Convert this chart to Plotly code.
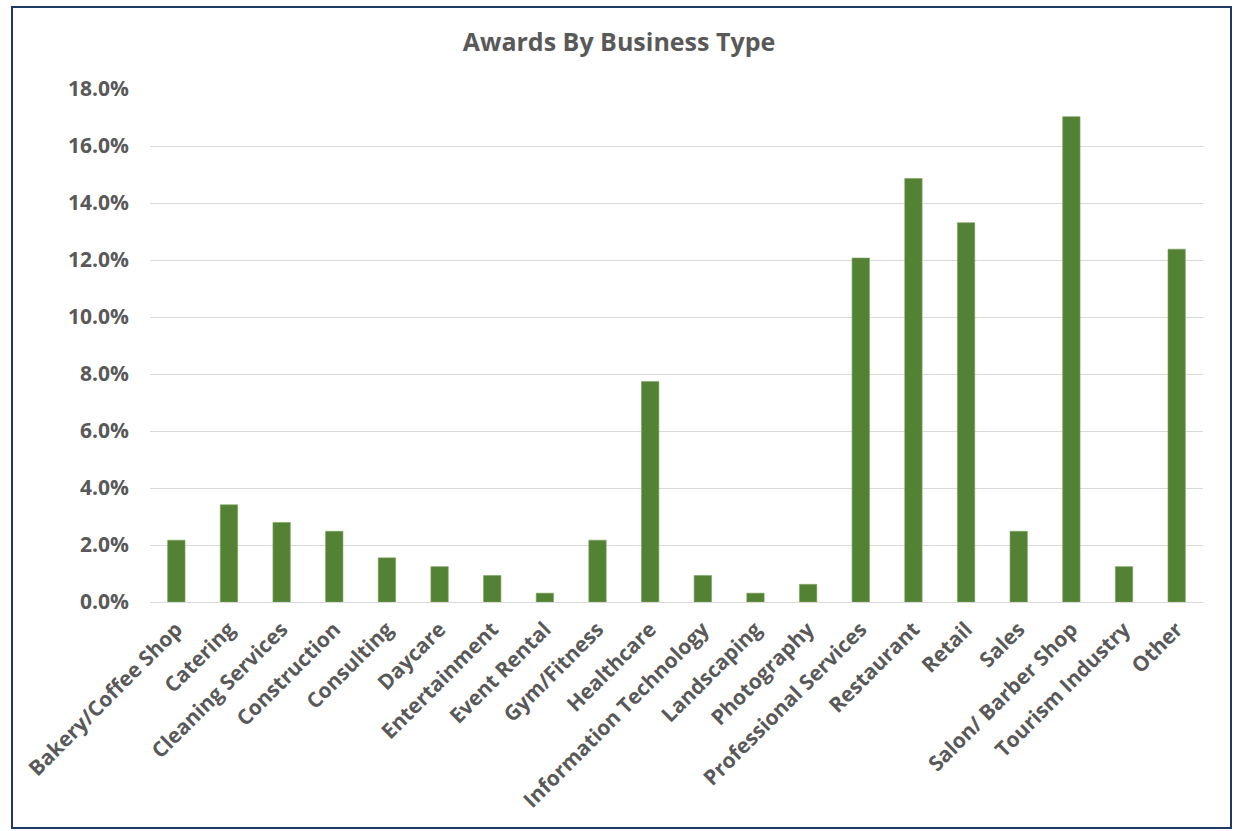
import plotly.graph_objects as go

categories = ["Bakery/Coffee Shop", "Catering", "Cleaning Services", "Construction",
              "Consulting", "Daycare", "Entertainment", "Event Rental", "Gym/Fitness",
              "Healthcare", "Information Technology", "Landscaping", "Photography",
              "Professional Services", "Restaurant", "Retail", "Sales",
              "Salon/ Barber Shop", "Tourism Industry", "Other"]
share_pct = [2.17, 3.41, 2.79, 2.48, 1.55, 1.24, 0.93, 0.31, 2.17, 7.74,
             0.93, 0.31, 0.62, 12.07, 14.86, 13.31, 2.48, 17.03, 1.24, 12.38]
y_ticks = [0, 2, 4, 6, 8, 10, 12, 14, 16, 18]
y_tick_labels = ["0.0%", "2.0%", "4.0%", "6.0%", "8.0%", "10.0%", "12.0%", "14.0%", "16.0%", "18.0%"]

W, H = 1234, 831
ML, MR, MT, MB = 150, 31, 89, 229
pw, ph = W - ML - MR, H - MT - MB

FONT = "Open Sans"
GREY = "#595959"

fig = go.Figure(go.Bar(
    x=categories, y=share_pct,
    marker=dict(color="#548235", line=dict(color="#7aa35c", width=0.6)),
))

def px_x(x):
    return (x - ML) / pw

def px_y(y):
    return 1 - (y - MT) / ph

fig.update_layout(
    width=W, height=H,
    margin=dict(l=ML, r=MR, t=MT, b=MB),
    paper_bgcolor="white", plot_bgcolor="white",
    bargap=0.67,
    showlegend=False,
    title=dict(text="Awards By Business Type", x=619 / W, xref="container", xanchor="center",
               y=1 - 42 / H, yref="container", yanchor="middle",
               font=dict(family=FONT, size=25, color=GREY, weight="bold")),
    xaxis=dict(tickangle=-45, tickfont=dict(family=FONT, size=21, color=GREY, weight="bold"),
               showgrid=False, showline=False, ticks="", zeroline=False,
               ticklabelstandoff=10),
    yaxis=dict(range=[0, 18], tickvals=y_ticks, ticktext=y_tick_labels,
               tickfont=dict(family=FONT, size=21, color=GREY, weight="bold"),
               showgrid=True, gridcolor="#D9D9D9", gridwidth=1.2,
               zeroline=True, zerolinecolor="#D9D9D9", zerolinewidth=1.2,
               showline=False, ticks="", ticklabelstandoff=20),
    shapes=[dict(type="rect", xref="paper", yref="paper",
                 x0=px_x(12), x1=px_x(1231), y0=px_y(828), y1=px_y(7),
                 line=dict(color="#203864", width=2), fillcolor="rgba(0,0,0,0)")],
)

fig.write_html("out.html", config={"displayModeBar": False},
               post_script="document.body.style.margin='0';document.body.style.overflow='hidden';")
